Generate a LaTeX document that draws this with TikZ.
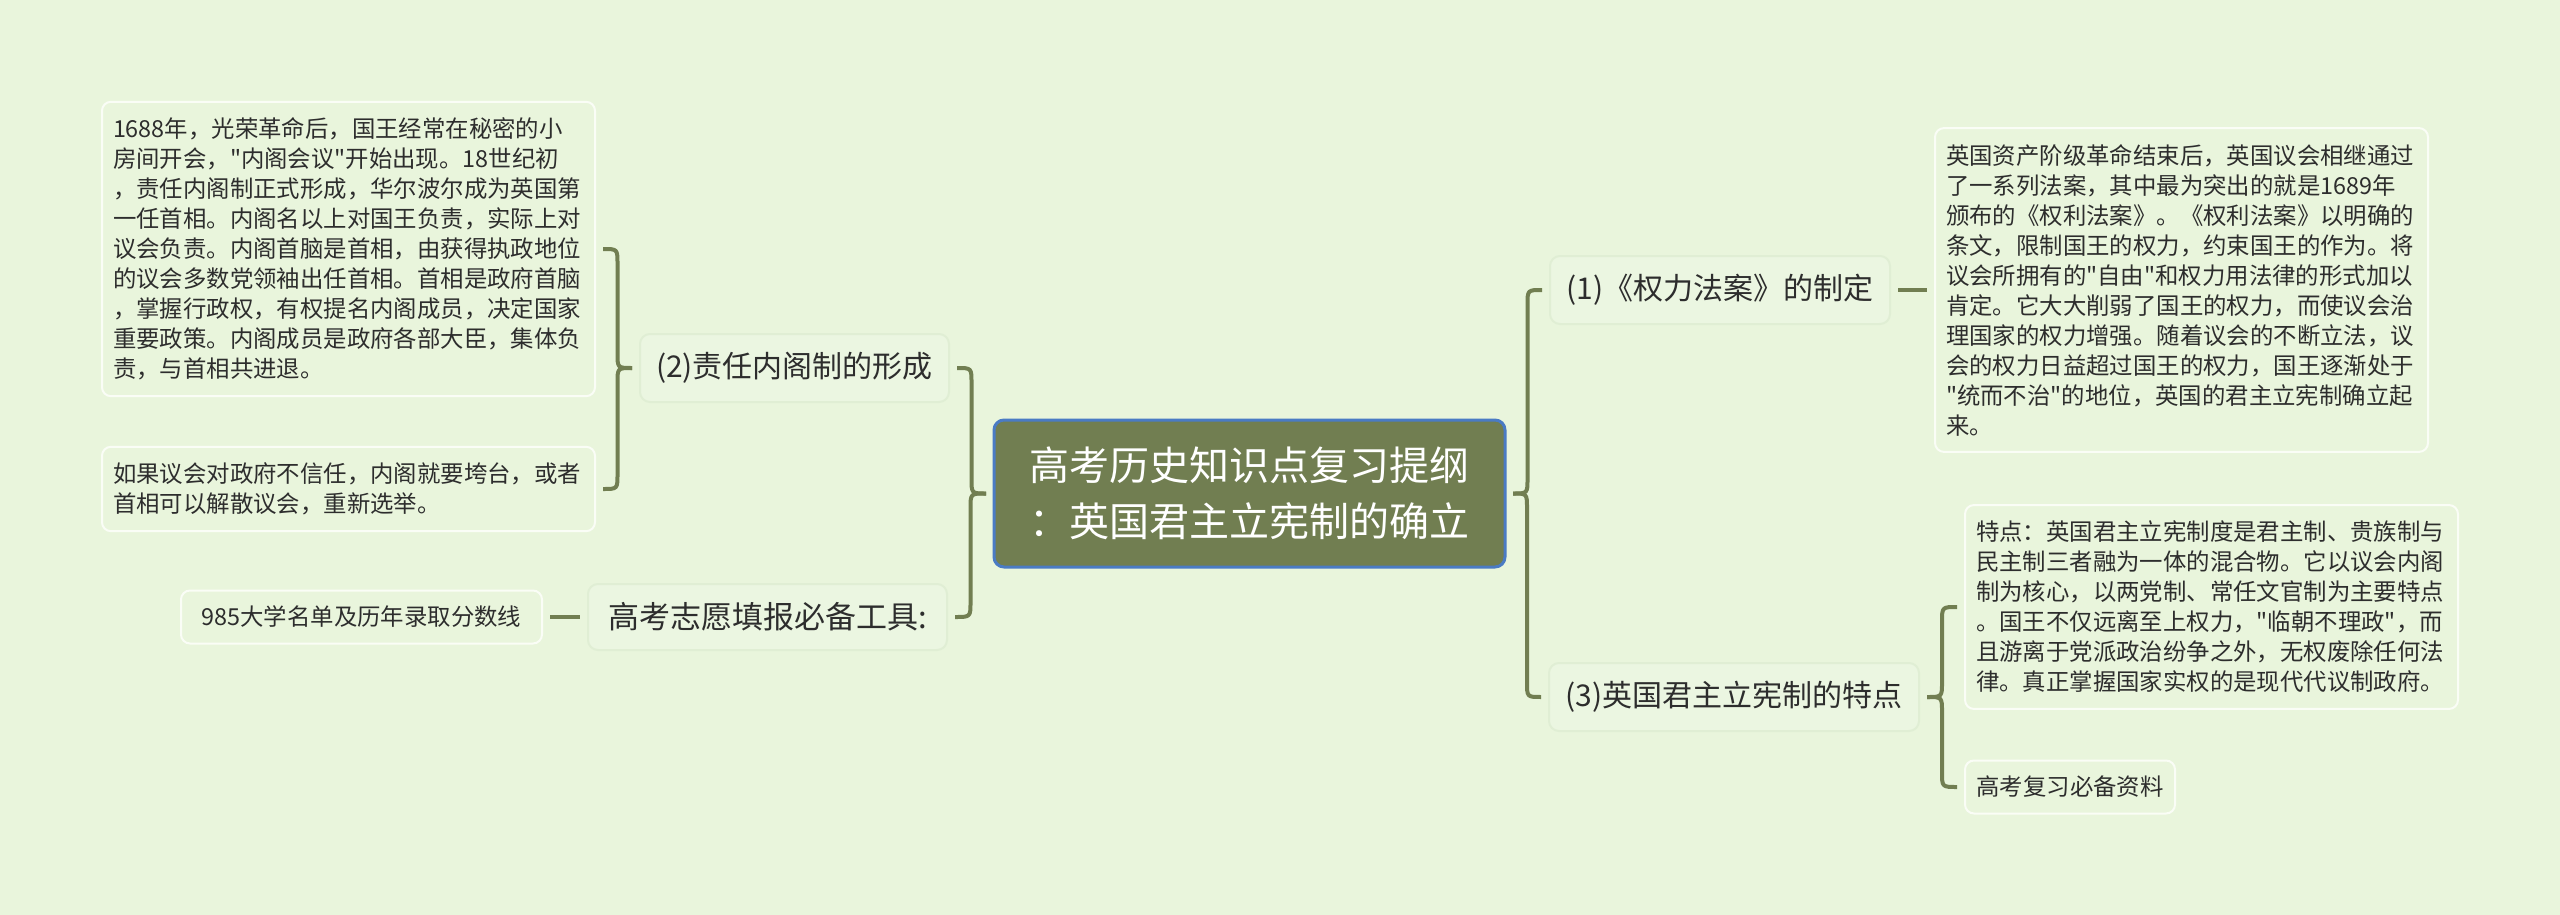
\documentclass[tikz,border=0pt]{standalone}
\usepackage{fontspec}
\setmainfont{Noto Sans CJK SC}[Ligatures=TeXOff]
\usetikzlibrary{calc}
\definecolor{bg}{RGB}{233,245,220}
\definecolor{olive}{RGB}{113,126,81}
\definecolor{rootborder}{RGB}{74,123,196}
\definecolor{txt}{RGB}{45,45,45}
\definecolor{leafborder}{RGB}{250,253,246}
\definecolor{subfill}{RGB}{235,246,225}
\definecolor{subborder}{RGB}{224,238,212}
\tikzset{
  root/.style={draw=rootborder, line width=3pt, fill=olive, rounded corners=10pt, text=white,
    font=\fontsize{40}{56}\selectfont, align=center, minimum width=511pt, minimum height=147pt, outer sep=8pt},
  sub/.style={draw=subborder, line width=2pt, fill=subfill, rounded corners=10pt, text=txt,
    font=\fontsize{30}{36}\selectfont, minimum height=68pt, outer sep=8pt},
  leaf/.style={draw=leafborder, line width=2pt, fill=bg, rounded corners=9pt, text=txt,
    font=\fontsize{23.4}{30}\selectfont, align=left, inner xsep=11pt, inner ysep=16pt, outer sep=8pt},
  longleaf/.style={leaf, text width=471pt},
  shortleaf/.style={leaf, inner ysep=4pt, minimum height=53pt},
  link/.style={draw=olive, line width=4pt, line join=round},
  brace/.style={link, to path={let \p1=(\tikztostart), \p2=(\tikztotarget),
      \n1={0.5*(\x1+\x2)}, \n2={ifthenelse(\y2>\y1,15,-15)} in
      (\p1) .. controls (\n1,\y1) .. (\n1,\y1+\n2) -- (\n1,\y2-\n2) .. controls (\n1,\y2) .. (\p2)}},
}
\begin{document}
\begin{tikzpicture}[x=1pt,y=-1pt]
\fill[bg] (0,0) rectangle (2560,915);
\useasboundingbox (0,0) rectangle (2560,915);

\node[root] (root) at (1249.5,493.5) {高考历史知识点复习提纲\\：英国君主立宪制的确立};

\node[sub, minimum width=309pt] (n2) at (794.5,368) {(2)责任内阁制的形成};
\node[sub, minimum width=359pt, minimum height=66pt, font=\fontsize{31}{36}\selectfont] (tool) at (767.5,617) {高考志愿填报必备工具:};
\node[shortleaf, minimum width=361pt] (l985) at (361.5,617) {985大学名单及历年录取分数线};

\node[longleaf] (b1) at (348.5,249) {1688年，光荣革命后，国王经常在秘密的小\\
房间开会，"内阁会议"开始出现。18世纪初\\
，责任内阁制正式形成，华尔波尔成为英国第\\
一任首相。内阁名以上对国王负责，实际上对\\
议会负责。内阁首脑是首相，由获得执政地位\\
的议会多数党领袖出任首相。首相是政府首脑\\
，掌握行政权，有权提名内阁成员，决定国家\\
重要政策。内阁成员是政府各部大臣，集体负\\
责，与首相共进退。};

\node[longleaf] (b2) at (348.5,489) {如果议会对政府不信任，内阁就要垮台，或者\\
首相可以解散议会，重新选举。};

\node[sub, minimum width=340pt] (n1) at (1720,290) {(1)《权力法案》的制定};
\node[longleaf] (r1) at (2181.5,290) {英国资产阶级革命结束后，英国议会相继通过\\
了一系列法案，其中最为突出的就是1689年\\
颁布的《权利法案》。《权利法案》以明确的\\
条文，限制国王的权力，约束国王的作为。将\\
议会所拥有的"自由"和权力用法律的形式加以\\
肯定。它大大削弱了国王的权力，而使议会治\\
理国家的权力增强。随着议会的不断立法，议\\
会的权力日益超过国王的权力，国王逐渐处于\\
"统而不治"的地位，英国的君主立宪制确立起\\
来。};

\node[sub, minimum width=370pt] (n3) at (1734,697) {(3)英国君主立宪制的特点};
\node[longleaf] (r3a) at (2211.5,607) {特点：英国君主立宪制度是君主制、贵族制与\\
民主制三者融为一体的混合物。它以议会内阁\\
制为核心，以两党制、常任文官制为主要特点\\
。国王不仅远离至上权力，"临朝不理政"，而\\
且游离于党派政治纷争之外，无权废除任何法\\
律。真正掌握国家实权的是现代代议制政府。};
\node[shortleaf, minimum width=210pt] (r3b) at (2070,787) {高考复习必备资料};

\draw[brace] (n2.east) to (root.west);
\draw[brace] (tool.east) to (root.west);
\draw[brace] (b1.east) to (n2.west);
\draw[brace] (b2.east) to (n2.west);
\draw[link] (l985.east) -- (tool.west);
\draw[brace] (n1.west) to (root.east);
\draw[brace] (n3.west) to (root.east);
\draw[link] (n1.east) -- (r1.west);
\draw[brace] (r3a.west) to (n3.east);
\draw[brace] (r3b.west) to (n3.east);
\end{tikzpicture}
\end{document}
